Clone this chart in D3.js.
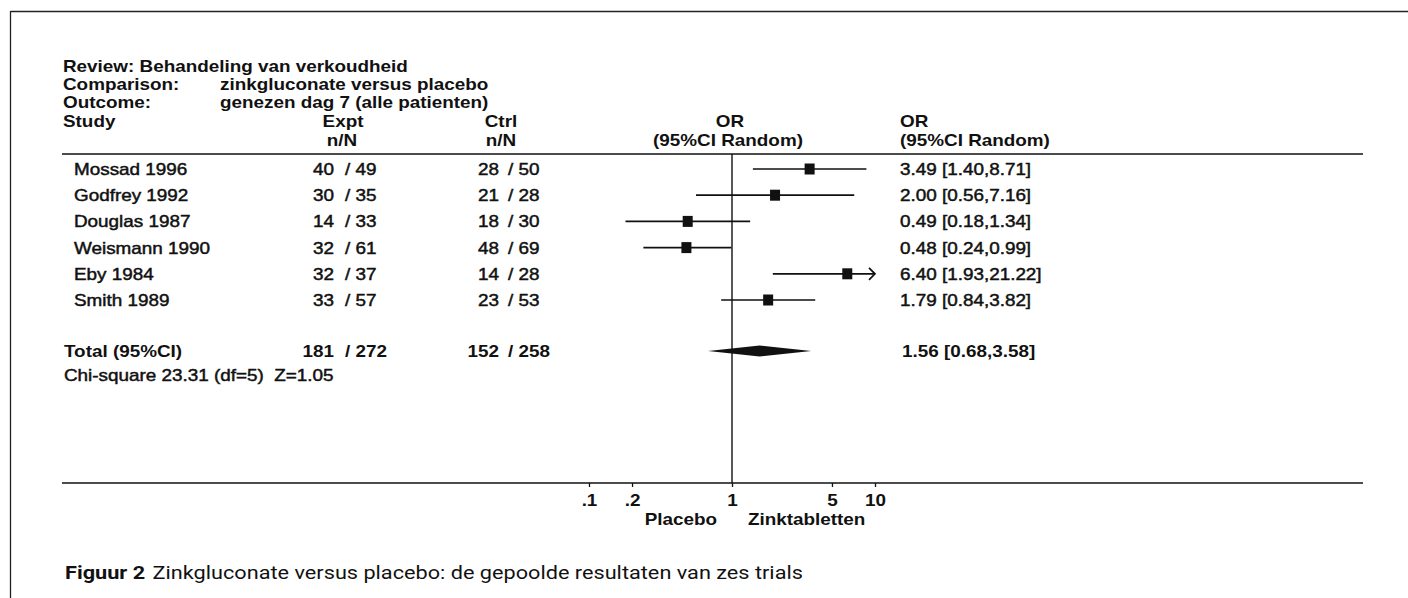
<!DOCTYPE html>
<html><head><meta charset="utf-8">
<script src="https://cdn.jsdelivr.net/npm/d3@7"></script>
<style>
html,body{margin:0;padding:0;background:#fff;}
svg{display:block;}
text{font-family:"Liberation Sans",Arial,sans-serif;fill:#111;font-size:16px;}
.b{font-weight:bold;}
.r{stroke:#111;stroke-width:0.45px;}
.cap{font-family:Roboto,"Noto Sans",sans-serif;font-size:17.5px;stroke:none;}
</style></head><body>
<svg id="c" width="1408" height="598"></svg>
<script>
// ---- data ----
const studies   = ["Mossad 1996","Godfrey 1992","Douglas 1987","Weismann 1990","Eby 1984","Smith 1989"];
const exptN     = [40,30,14,32,32,33];
const exptTotal = [49,35,33,61,37,57];
const ctrlN     = [28,21,18,48,14,23];
const ctrlTotal = [50,28,30,69,28,53];
const orValue   = [3.49,2.00,0.49,0.48,6.40,1.79];
const ciLow     = [1.40,0.56,0.18,0.24,1.93,0.84];
const ciHigh    = [8.71,7.16,1.34,0.99,21.22,3.82];
const totalLabel = "Total (95%CI)";
const totalExpt = [181,272];
const totalCtrl = [152,258];
const totalOR   = [1.56,0.68,3.58];
const hetText   = "Chi-square 23.31 (df=5)  Z=1.05";
const tickValues = [0.1,0.2,1,5,10];
const tickLabels = [".1",".2","1","5","10"];
const headerLines = [["Review:","Behandeling van verkoudheid"],["Comparison:","zinkgluconate versus placebo"],["Outcome:","genezen dag 7 (alle patienten)"]];
const leftLabel = "Placebo", rightLabel = "Zinktabletten";
const captionBold = "Figuur 2", captionText = "Zinkgluconate versus placebo: de gepoolde resultaten van zes trials";

// ---- layout ----
const SX = 1.18;      // horizontal stretch of the scanned lettering
const svg = d3.select("#c");
const x = d3.scaleLog().domain([0.1,10]).range([589,875]);
const y = d3.scaleLinear().domain([0,studies.length-1]).range([169,300]);
const yTotal = 351, yHet = 375, yRule = 154, yAxis = 483;
const base = 6; // center -> baseline
const fmt = d3.format(".2f");

function txt(parent, px, py, str, cls, anchor){
  return parent.append("text").attr("class",cls||null)
    .attr("transform",`translate(${px},${py+base}) scale(${SX},1)`)
    .attr("text-anchor",anchor||"start").text(str);
}

// frame
svg.append("line").attr("x1",10.5).attr("x2",1408).attr("y1",11.5).attr("y2",11.5).attr("stroke","#222").attr("stroke-width",1.3);
svg.append("line").attr("x1",10.5).attr("x2",10.5).attr("y1",11).attr("y2",598).attr("stroke","#222").attr("stroke-width",1.3);

// header block
const hy = [66,84,102];
headerLines.forEach((h,i)=>{
  if(i===0){
    txt(svg,63,hy[i],h[0]+" "+h[1],"b");
  } else {
    txt(svg,63,hy[i],h[0],"b");
    txt(svg,220,hy[i],h[1],"b");
  }
});
const yH1 = 121, yH2 = 140;
txt(svg,63,yH1,"Study","b");
txt(svg,343,yH1,"Expt","b","middle");
txt(svg,342,yH2,"n/N","b","middle");
txt(svg,501,yH1,"Ctrl","b","middle");
txt(svg,501,yH2,"n/N","b","middle");
txt(svg,x(1)-2,yH1,"OR","b","middle");
txt(svg,x(1)-4,yH2,"(95%CI Random)","b","middle");
txt(svg,900,yH1,"OR","b");
txt(svg,900,yH2,"(95%CI Random)","b");

// rules
svg.append("line").attr("x1",62).attr("x2",1363).attr("y1",yRule).attr("y2",yRule).attr("stroke","#111").attr("stroke-width",1.4);

// reference line at OR = 1
svg.append("line").attr("x1",x(1)).attr("x2",x(1)).attr("y1",yRule).attr("y2",yAxis).attr("stroke","#111").attr("stroke-width",1.4);

// rows
const rows = studies.map((s,i)=>({s,i,en:exptN[i],et:exptTotal[i],cn:ctrlN[i],ct:ctrlTotal[i],or:orValue[i],lo:ciLow[i],hi:ciHigh[i]}));
const g = svg.selectAll("g.row").data(rows).join("g").attr("class","row");
const tf = (px)=> d=>`translate(${px},${y(d.i)+base}) scale(${SX},1)`;
g.append("text").attr("class","r").attr("transform",tf(74)).text(d=>d.s);
g.append("text").attr("class","r").attr("transform",tf(334)).attr("text-anchor","end").text(d=>d.en);
g.append("text").attr("class","r").attr("transform",tf(345)).text(d=>"/ "+d.et);
g.append("text").attr("class","r").attr("transform",tf(499)).attr("text-anchor","end").text(d=>d.cn);
g.append("text").attr("class","r").attr("transform",tf(508)).text(d=>"/ "+d.ct);
g.append("text").attr("class","r").attr("transform",tf(900)).text(d=>`${fmt(d.or)} [${fmt(d.lo)},${fmt(d.hi)}]`);
const [dMin,dMax] = x.domain();
g.append("line")
  .attr("x1",d=>x(Math.max(d.lo,dMin))).attr("x2",d=>x(Math.min(d.hi,dMax)))
  .attr("y1",d=>y(d.i)).attr("y2",d=>y(d.i)).attr("stroke","#111").attr("stroke-width",1.7);
g.filter(d=>d.hi>dMax).append("path")
  .attr("d",d=>{const xe=x(dMax), yy=y(d.i); return `M${xe-6},${yy-6}L${xe},${yy}L${xe-6},${yy+6}`;})
  .attr("fill","none").attr("stroke","#111").attr("stroke-width",1.7);
g.append("rect").attr("x",d=>x(d.or)-5).attr("y",d=>y(d.i)-5.5).attr("width",10).attr("height",11).attr("fill","#111");

// total
txt(svg,64,yTotal,totalLabel,"b");
txt(svg,334,yTotal,totalExpt[0],"b","end");
txt(svg,345,yTotal,"/ "+totalExpt[1],"b");
txt(svg,499,yTotal,totalCtrl[0],"b","end");
txt(svg,508,yTotal,"/ "+totalCtrl[1],"b");
txt(svg,902,yTotal,`${fmt(totalOR[0])} [${fmt(totalOR[1])},${fmt(totalOR[2])}]`,"b");
svg.append("path")
  .attr("d",`M${x(totalOR[1])},${yTotal}L${x(totalOR[0])},${yTotal-5.5}L${x(totalOR[2])},${yTotal}L${x(totalOR[0])},${yTotal+5.5}Z`)
  .attr("fill","#111");
txt(svg,64,yHet,hetText,"r").attr("xml:space","preserve").style("white-space","pre");

// axis
svg.append("line").attr("x1",62).attr("x2",1363).attr("y1",yAxis).attr("y2",yAxis).attr("stroke","#111").attr("stroke-width",1.4);
const axis = d3.axisBottom(x).tickValues(tickValues).tickFormat((d,i)=>tickLabels[i]).tickSize(4).tickPadding(5);
const ag = svg.append("g").attr("transform",`translate(0,${yAxis})`).call(axis);
ag.select(".domain").remove();
ag.selectAll(".tick line").attr("stroke","#111").attr("stroke-width",1.3);
ag.selectAll(".tick text").attr("class","b").attr("font-size",null).attr("font-family",null)
  .attr("fill","#111").attr("dy",null).attr("y",null)
  .attr("transform",`translate(0,${17+base}) scale(${SX},1)`);
txt(svg,x(1)-15,519,leftLabel,"b","end");
txt(svg,x(1)+16,519,rightLabel,"b");

// caption
const cap = svg.append("text").attr("class","cap").attr("transform",`translate(65,579) scale(1.24,1)`);
cap.append("tspan").style("font-weight","bold").text(captionBold);
cap.append("tspan").attr("dx",6).text(captionText);
</script>
</body></html>
